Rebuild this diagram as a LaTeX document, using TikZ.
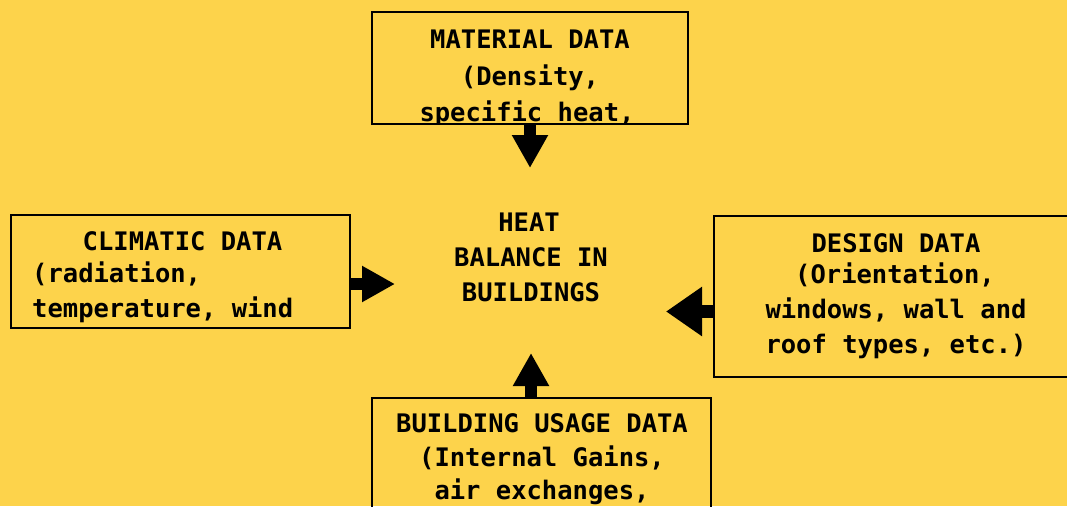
\documentclass[tikz,border=0pt]{standalone}
\usepackage{fontspec}
\setmonofont{DejaVu Sans Mono}
\usetikzlibrary{arrows.meta}
\definecolor{bg}{RGB}{253,211,75}
\begin{document}
\begin{tikzpicture}[x=1pt,y=-1pt,
  box/.style={draw=black,line width=1.6pt,inner sep=0pt},
  txt/.style={font=\ttfamily\bfseries\fontsize{25.5pt}{34pt}\selectfont,anchor=base,inner sep=0pt},
  blk/.style={line width=12.5pt,-{Triangle[width=34pt,length=33pt]}},
  blkbig/.style={line width=13pt,-{Triangle[width=47pt,length=36pt]}}]
\clip (0,0) rectangle (1067,506);
\fill[bg] (0,0) rectangle (1067,506);
% boxes
\node (mat) [box,minimum width=316pt,minimum height=112pt] at (530,68) {};
\node (clim) [box,minimum width=339pt,minimum height=113pt] at (180.5,271.5) {};
\node (des) [box,minimum width=366pt,minimum height=161pt] at (897,296.5) {};
\node (bld) [box,minimum width=339pt,minimum height=124pt] at (541.5,460) {};
% material text (clipped)
\begin{scope}
\clip (mat.north west) rectangle (mat.south east);
\node (m1) [txt] at (530,48) {MATERIAL DATA};
\node (m2) [txt] at (530,85) {(Density,};
\node (m3) [txt] at (527,121) {specific heat,};
\end{scope}
% climatic text
\node (c1) [txt] at (182.5,250) {CLIMATIC DATA};
\node (c2) [txt,anchor=base west] at (32,282) {(radiation,};
\node (c3) [txt,anchor=base west] at (32,317) {temperature, wind};
% design text
\node (d1) [txt] at (896,252) {DESIGN DATA};
\node (d2) [txt] at (895,283) {(Orientation,};
\node (d3) [txt] at (896,318) {windows, wall and};
\node (d4) [txt] at (896,353) {roof types, etc.)};
% building text
\node (b1) [txt] at (542,432) {BUILDING USAGE DATA};
\node (b2) [txt] at (542,466) {(Internal Gains,};
\node (b3) [txt] at (542,499) {air exchanges,};
% centre text
\node (h1) [txt] at (529,231) {HEAT};
\node (h2) [txt] at (531,266) {BALANCE IN};
\node (h3) [txt] at (531,301) {BUILDINGS};
% arrows
\coordinate (tipD) at (530,168);
\coordinate (tipR) at (395,284);
\coordinate (tipL) at (666,311.5);
\coordinate (tipU) at (531,353);
\draw[blk] (mat.south) -- (tipD);
\draw[blk] (clim.east |- tipR) -- (tipR);
\draw[blkbig] (des.west |- tipL) -- (tipL);
\draw[blk] (bld.north -| tipU) -- (tipU);
\end{tikzpicture}
\end{document}
